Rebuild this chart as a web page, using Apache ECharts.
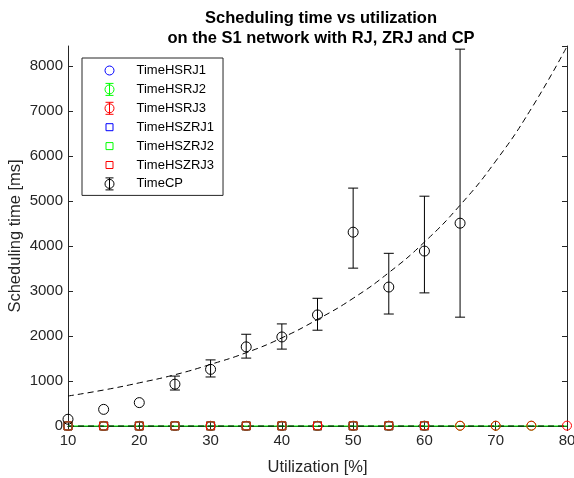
<!DOCTYPE html>
<html>
<head>
<meta charset="utf-8">
<script src="https://cdn.jsdelivr.net/npm/echarts@6/dist/echarts.min.js"></script>
<style>
  html, body { margin: 0; padding: 0; background: #fff; }
  #chart { width: 574px; height: 478px; }
</style>
</head>
<body>
<div id="chart"></div>
<script>
// utilization steps [%]
const utilHS = [10, 15, 20, 25, 30, 35, 40, 45, 50, 55, 60];
const utilHS2 = [10, 15, 20, 25, 30, 35, 40, 45, 50, 55, 60, 65, 70, 75];
const utilHS3 = [10, 15, 20, 25, 30, 35, 40, 45, 50, 55, 60, 65, 70, 75, 80];
const utilCP = [10, 15, 20, 25, 30, 35, 40, 45, 50, 55, 60, 65];
const utilFit = [10, 15, 20, 25, 30, 35, 40, 45, 50, 55, 60, 65, 70, 75, 80];

// heuristic times [ms], all close to zero
const timeHSRJ1 = [1, 1, 2, 2, 2, 3, 3, 3, 4, 4, 5];
const timeHSRJ2 = [1, 1, 2, 2, 2, 3, 3, 3, 4, 4, 5, 5, 6, 6];
const timeHSRJ3 = [1, 1, 2, 2, 3, 3, 3, 4, 4, 5, 5, 6, 6, 7, 8];
const timeHSZRJ1 = [1, 1, 1, 2, 2, 2, 3, 3, 3, 4, 4];
const timeHSZRJ2 = [1, 1, 1, 2, 2, 2, 3, 3, 3, 4, 4];
const timeHSZRJ3 = [1, 1, 1, 2, 2, 2, 3, 3, 3, 4, 4];

// CP times [ms] with error bar bounds
const timeCP = [150, 370, 520, 930, 1260, 1760, 1980, 2470, 4310, 3090, 3890, 4510];
const cpLower = [null, null, null, 800, 1090, 1510, 1710, 2130, 3510, 2490, 2960, 2420];
const cpUpper = [null, null, null, 1110, 1470, 2040, 2270, 2840, 5290, 3840, 5110, 8380];

// fitted curves
const fitCP = [667, 800, 960, 1140, 1370, 1630, 1960, 2370, 2840, 3410, 4090, 4910, 5890, 7060, 8440];
const fitHS = [0, 0, 0, 0, 0, 0, 0, 0, 0, 0, 0, 0, 0, 0, 0];

const seriesNames = ['TimeHSRJ1', 'TimeHSRJ2', 'TimeHSRJ3', 'TimeHSZRJ1', 'TimeHSZRJ2', 'TimeHSZRJ3', 'TimeCP'];

const axisColor = '#262626';
const fontName = 'Liberation Sans';

// legend glyphs, all inside the same 12x12 box so they keep their relative size
const box = 'M-6,-6 M6,6 ';
const circleIcon = 'path://' + box + 'M4.5,0 A4.5,4.5 0 1,1 -4.5,0 A4.5,4.5 0 1,1 4.5,0 Z';
const squareIcon = 'path://' + box + 'M-3.5,-3.5 L3.5,-3.5 L3.5,3.5 L-3.5,3.5 Z';
const errIcon = 'path://' + box + 'M0,-6 L0,6 M-4,-6 L4,-6 M-4,6 L4,6 M4.5,0 A4.5,4.5 0 1,1 -4.5,0 A4.5,4.5 0 1,1 4.5,0 Z';

function zip(xs, ys) {
  return xs.map((x, i) => [x, ys[i]]);
}

function errData(xs, lo, hi) {
  const out = [];
  for (let i = 0; i < xs.length; i++) {
    if (lo[i] != null && hi[i] != null) out.push([xs[i], lo[i], hi[i]]);
  }
  return out;
}

function errorBars(name, color, data) {
  return {
    name: name,
    type: 'custom',
    clip: false,
    z: 3,
    renderItem: function (params, api) {
      const x = api.value(0);
      const lo = api.coord([x, api.value(1)]);
      const hi = api.coord([x, api.value(2)]);
      const w = 5;
      const st = { stroke: color, lineWidth: 1 };
      return {
        type: 'group',
        children: [
          { type: 'line', shape: { x1: lo[0], y1: lo[1], x2: hi[0], y2: hi[1] }, style: st },
          { type: 'line', shape: { x1: lo[0] - w, y1: lo[1], x2: lo[0] + w, y2: lo[1] }, style: st },
          { type: 'line', shape: { x1: hi[0] - w, y1: hi[1], x2: hi[0] + w, y2: hi[1] }, style: st }
        ]
      };
    },
    data: data
  };
}

function markers(name, color, symbol, size, xs, ys) {
  return {
    name: name,
    type: 'scatter',
    symbol: symbol,
    symbolSize: size,
    clip: false,
    z: 4,
    itemStyle: { color: 'transparent', borderColor: color, borderWidth: 1, opacity: 1 },
    data: zip(xs, ys)
  };
}

const chart = echarts.init(document.getElementById('chart'));

const legendIcons = {
  TimeHSRJ1: [circleIcon, '#0000ff'],
  TimeHSRJ2: [errIcon, '#00ff00'],
  TimeHSRJ3: [errIcon, '#ff0000'],
  TimeHSZRJ1: [squareIcon, '#0000ff'],
  TimeHSZRJ2: [squareIcon, '#00ff00'],
  TimeHSZRJ3: [squareIcon, '#ff0000'],
  TimeCP: [errIcon, '#000000']
};

chart.setOption({
  animation: false,
  title: {
    text: 'Scheduling time vs utilization\non the S1 network with RJ, ZRJ and CP',
    left: 316,
    textAlign: 'center',
    top: 3,
    textStyle: {
      fontFamily: fontName,
      fontSize: 16.5,
      fontWeight: 'bold',
      color: '#000',
      lineHeight: 20
    }
  },
  // y axis title, placed by hand (the axis name kept drifting to the edge)
  graphic: [{
    type: 'text',
    x: 15,
    y: 236,
    rotation: Math.PI / 2,
    style: {
      text: 'Scheduling time [ms]',
      fontFamily: fontName,
      fontSize: 16.5,
      fill: axisColor,
      align: 'center',
      verticalAlign: 'middle'
    }
  }],
  grid: { left: 68, right: 7, top: 46, bottom: 52, outerBoundsMode: 'none', containLabel: false },
  legend: {
    orient: 'vertical',
    left: 82,
    top: 58,
    // the icons sit centred in a 44px slot, so the left padding covers the empty part
    padding: [6, 9, 5, 21],
    itemWidth: 44,
    itemHeight: 12,
    itemGap: 5.9,
    backgroundColor: '#fff',
    borderColor: axisColor,
    borderWidth: 1,
    borderRadius: 0,
    textStyle: { fontFamily: fontName, fontSize: 13, color: '#000' },
    data: seriesNames.map(n => ({
      name: n,
      icon: legendIcons[n][0],
      itemStyle: { color: 'transparent', borderColor: legendIcons[n][1], borderWidth: 1 }
    }))
  },
  xAxis: [{
    type: 'value',
    min: 10,
    max: 80,
    interval: 10,
    position: 'bottom',
    name: 'Utilization [%]',
    nameLocation: 'middle',
    nameGap: 33,
    nameTextStyle: { fontFamily: fontName, fontSize: 16.5, color: axisColor },
    axisLine: { show: true, lineStyle: { color: axisColor } },
    axisTick: { inside: true, length: 5, lineStyle: { color: axisColor } },
    axisLabel: { fontFamily: fontName, fontSize: 15, color: axisColor, margin: 7 },
    splitLine: { show: false }
  }, {
    type: 'value',
    min: 10,
    max: 80,
    interval: 10,
    position: 'top',
    axisLine: { show: true, lineStyle: { color: axisColor } },
    axisTick: { inside: true, length: 5, lineStyle: { color: axisColor } },
    axisLabel: { show: false },
    splitLine: { show: false }
  }],
  yAxis: [{
    type: 'value',
    min: 0,
    max: 8450,
    interval: 1000,
    position: 'left',
    axisLine: { show: true, lineStyle: { color: axisColor } },
    axisTick: { inside: true, length: 5, lineStyle: { color: axisColor } },
    axisLabel: {
      fontFamily: fontName,
      fontSize: 15,
      color: axisColor,
      margin: 5,
      showMaxLabel: false,
      formatter: v => String(v)
    },
    splitLine: { show: false }
  }, {
    type: 'value',
    min: 0,
    max: 8450,
    interval: 1000,
    position: 'right',
    axisLine: { show: true, lineStyle: { color: axisColor } },
    axisTick: { inside: true, length: 5, lineStyle: { color: axisColor } },
    axisLabel: { show: false },
    splitLine: { show: false }
  }],
  series: [
    markers('TimeHSRJ1', '#0000ff', 'circle', 9, utilHS, timeHSRJ1),
    markers('TimeHSRJ2', '#00ff00', 'circle', 9, utilHS2, timeHSRJ2),
    markers('TimeHSRJ3', '#ff0000', 'circle', 9, utilHS3, timeHSRJ3),
    markers('TimeHSZRJ1', '#0000ff', 'rect', 8, utilHS, timeHSZRJ1),
    markers('TimeHSZRJ2', '#00ff00', 'rect', 8, utilHS, timeHSZRJ2),
    markers('TimeHSZRJ3', '#ff0000', 'rect', 8, utilHS, timeHSZRJ3),
    markers('TimeCP', '#000000', 'circle', 10, utilCP, timeCP),
    errorBars('TimeCP', '#000000', errData(utilCP, cpLower, cpUpper)),
    {
      type: 'line',
      data: zip(utilFit, fitHS),
      symbol: 'none',
      clip: false,
      z: 2,
      lineStyle: { color: '#00ff00', width: 1 }
    },
    {
      type: 'line',
      data: zip(utilFit, fitHS),
      symbol: 'none',
      clip: false,
      z: 2,
      lineStyle: { color: '#000', width: 1, type: [6, 4] }
    },
    {
      type: 'line',
      data: zip(utilFit, fitCP),
      symbol: 'none',
      smooth: true,
      clip: true,
      z: 2,
      lineStyle: { color: '#000', width: 1, type: [6, 4] }
    }
  ]
});
</script>
</body>
</html>
